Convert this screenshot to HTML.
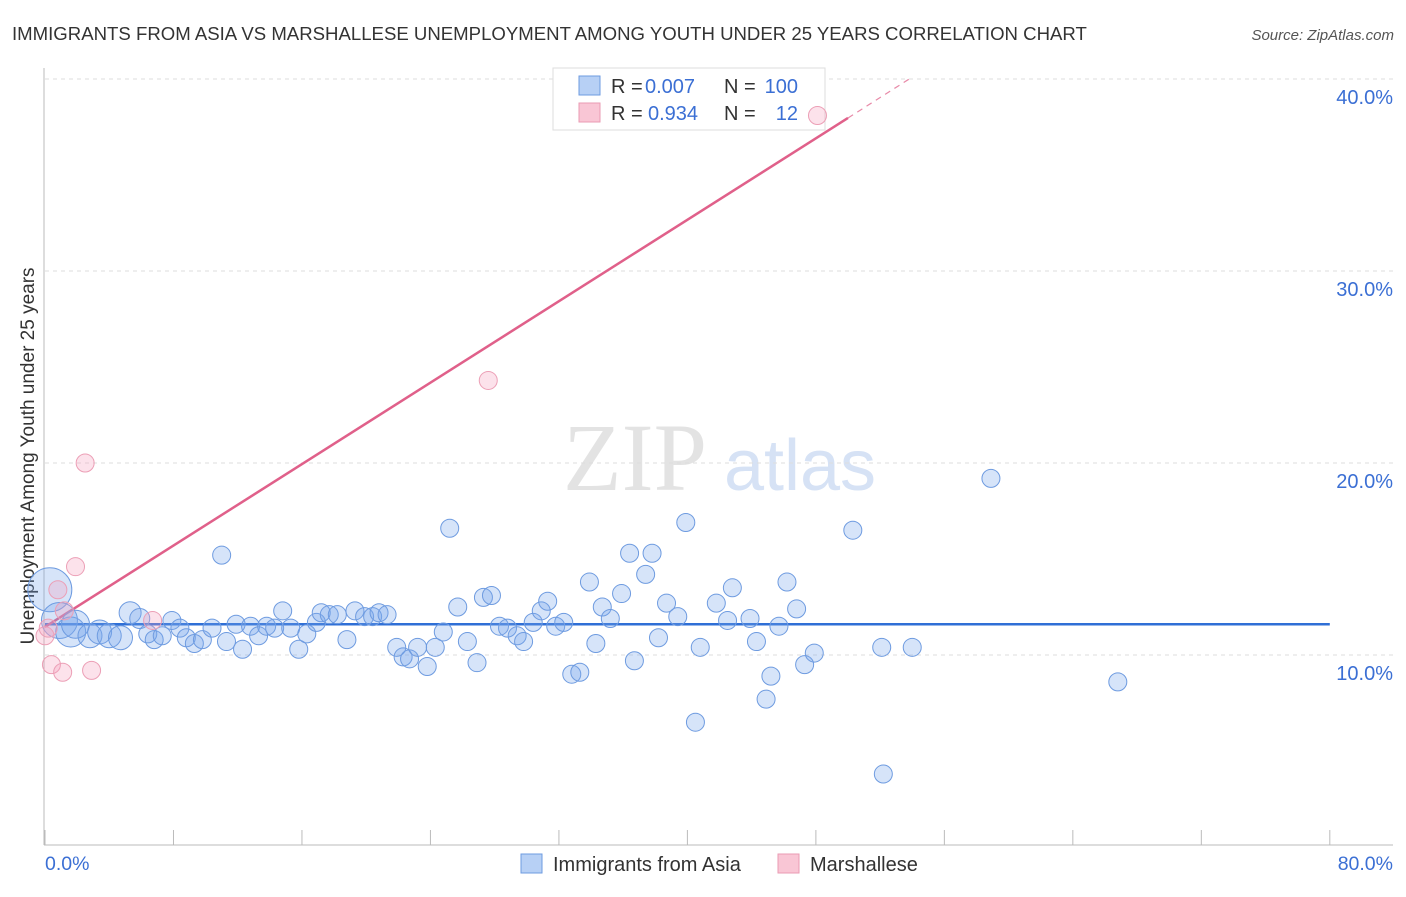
<!DOCTYPE html>
<html><head><meta charset="utf-8"><style>
body{margin:0;background:#fff;font-family:"Liberation Sans",sans-serif}
</style></head><body>
<svg width="1406" height="892" viewBox="0 0 1406 892" xmlns="http://www.w3.org/2000/svg" font-family="Liberation Sans, sans-serif">
<text x="12" y="40" font-size="18.6" fill="#333">IMMIGRANTS FROM ASIA VS MARSHALLESE UNEMPLOYMENT AMONG YOUTH UNDER 25 YEARS CORRELATION CHART</text>
<text x="1394" y="40" font-size="15" fill="#555" font-style="italic" text-anchor="end">Source: ZipAtlas.com</text>
<g>
<text x="635" y="490" font-size="96" font-family="Liberation Serif, serif" fill="#e3e3e3" text-anchor="middle">ZIP</text>
<text x="800" y="490" font-size="72" fill="#d6e2f5" text-anchor="middle">atlas</text>
</g>
<g id="grid"></g>
<line x1="44" y1="68" x2="44" y2="845" stroke="#bbb"/>
<line x1="44" y1="845" x2="1393" y2="845" stroke="#bbb"/>
<g id="xticks"></g>
<g id="ylabels"></g>
<text x="45" y="870" font-size="19.5" fill="#3b6fd4">0.0%</text>
<text x="1393" y="870" font-size="19.5" fill="#3b6fd4" text-anchor="end">80.0%</text>
<text transform="translate(34,456) rotate(-90)" font-size="19" fill="#333" text-anchor="middle">Unemployment Among Youth under 25 years</text>
<g id="lines"></g>
<g>
<rect x="553" y="68" width="272" height="62" fill="#fff" stroke="#ddd"/>
<rect x="579" y="76" width="21" height="19" fill="#b7d0f5" stroke="#6e9be0"/>
<rect x="579" y="103" width="21" height="19" fill="#f9c6d5" stroke="#ea9bb3"/>
<text x="611" y="93" font-size="20" fill="#333">R =</text>
<text x="645" y="93" font-size="20" fill="#3b6fd4">0.007</text>
<text x="724" y="93" font-size="20" fill="#333">N =</text>
<text x="798" y="93" font-size="20" fill="#3b6fd4" text-anchor="end">100</text>
<text x="611" y="120" font-size="20" fill="#333">R =</text>
<text x="648" y="120" font-size="20" fill="#3b6fd4">0.934</text>
<text x="724" y="120" font-size="20" fill="#333">N =</text>
<text x="798" y="120" font-size="20" fill="#3b6fd4" text-anchor="end">12</text>
</g>
<g id="pts"></g>
<g>
<rect x="521" y="854" width="21" height="19" fill="#b7d0f5" stroke="#6e9be0"/>
<text x="553" y="871" font-size="20" fill="#333">Immigrants from Asia</text>
<rect x="778" y="854" width="21" height="19" fill="#f9c6d5" stroke="#ea9bb3"/>
<text x="810" y="871" font-size="20" fill="#333">Marshallese</text>
</g>
</svg>
<script>
const yTicks=[10,20,30,40];
const yTickLabels=["10.0%","20.0%","30.0%","40.0%"];
const xTicks=[0,8,16,24,32,40,48,56,64,72,80];
const asiaX=[0.3,0.9,1.6,1.9,2.8,3.4,4.0,4.7,5.3,5.9,6.4,6.8,7.3,7.9,8.4,8.8,9.3,9.8,10.4,11.0,11.3,11.9,12.3,12.8,13.3,13.8,14.3,14.8,15.3,15.8,16.3,16.9,17.2,17.7,18.2,18.8,19.3,19.9,20.4,20.8,21.3,21.9,22.3,22.7,23.2,23.8,24.3,24.8,25.2,25.7,26.3,26.9,27.3,27.8,28.3,28.8,29.4,29.8,30.4,30.9,31.3,31.8,32.3,32.8,33.3,33.9,34.3,34.7,35.2,35.9,36.4,36.7,37.4,37.8,38.2,38.7,39.4,39.9,40.5,40.8,41.8,42.5,42.8,43.9,44.3,44.9,45.2,45.7,46.2,46.8,47.3,47.9,50.3,52.1,52.2,54.0,58.9,66.8];
const asiaY=[13.4,11.8,11.2,11.6,11.0,11.2,11.0,10.9,12.2,11.9,11.1,10.8,11.0,11.8,11.4,10.9,10.6,10.8,11.4,15.2,10.7,11.6,10.3,11.5,11.0,11.5,11.4,12.3,11.4,10.3,11.1,11.7,12.2,12.1,12.1,10.8,12.3,12.0,12.0,12.2,12.1,10.4,9.9,9.8,10.4,9.4,10.4,11.2,16.6,12.5,10.7,9.6,13.0,13.1,11.5,11.4,11.0,10.7,11.7,12.3,12.8,11.5,11.7,9.0,9.1,13.8,10.6,12.5,11.9,13.2,15.3,9.7,14.2,15.3,10.9,12.7,12.0,16.9,6.5,10.4,12.7,11.8,13.5,11.9,10.7,7.7,8.9,11.5,13.8,12.4,9.5,10.1,16.5,10.4,3.8,10.4,19.2,8.6];
const asiaSize=[22,18,15,14,12,12,12,12,11,10];
const marX=[0,0.2,0.4,1.1,0.8,1.2,1.9,2.9,6.7,2.5,27.6,48.1];
const marY=[11.0,11.4,9.5,9.1,13.4,12.3,14.6,9.2,11.8,20.0,24.3,38.1];
const asiaTrend=[0,11.6,80,11.6];
const marTrend=[0,11.46,50,37.97,54,40.1];
const X=v=>45+v*16.06, Y=v=>847-v*19.2;
const NS="http://www.w3.org/2000/svg";
function mk(t,a,p){const e=document.createElementNS(NS,t);for(const k in a)e.setAttribute(k,a[k]);p.appendChild(e);return e;}
const grid=document.getElementById('grid'),yl=document.getElementById('ylabels');
yTicks.forEach((t,i)=>{
 const l=mk('line',{x1:45,x2:1393,y1:Y(t),y2:Y(t),stroke:'#ddd','stroke-dasharray':'4,4'},grid);
 
 
 const tx=mk('text',{x:1393,y:Y(t)+25,'font-size':20,fill:'#3b6fd4','text-anchor':'end'},yl);
 tx.textContent=yTickLabels[i];
 
 
});
const xt=document.getElementById('xticks');
xTicks.forEach(t=>{const l=mk('line',{x1:X(t),x2:X(t),y1:830,y2:845,stroke:'#bbb'},xt);
 
 });
const pts=document.getElementById('pts');
asiaX.forEach((x,i)=>{const c=mk('circle',{cx:X(x),cy:Y(asiaY[i]),r:asiaSize[i]||9,fill:'rgba(120,165,235,0.3)',stroke:'#6e9be0','stroke-width':1},pts);
 
 });
marX.forEach((x,i)=>{const c=mk('circle',{cx:X(x),cy:Y(marY[i]),r:9,fill:'rgba(245,160,190,0.3)',stroke:'#ec9fb6','stroke-width':1},pts);
 
 });
const ln=document.getElementById('lines');
const a=mk('line',{x1:X(asiaTrend[0]),y1:Y(asiaTrend[1]),x2:X(asiaTrend[2]),y2:Y(asiaTrend[3]),stroke:'#2f6fd6','stroke-width':2.5},ln);


const m=mk('line',{x1:X(marTrend[0]),y1:Y(marTrend[1]),x2:X(marTrend[2]),y2:Y(marTrend[3]),stroke:'#e0608a','stroke-width':2.5},ln);


const md=mk('line',{x1:X(marTrend[2]),y1:Y(marTrend[3]),x2:X(marTrend[4]),y2:Y(marTrend[5]),stroke:'#e88aa8','stroke-width':1.2,'stroke-dasharray':'6,5'},ln);


</script>
</body></html>
